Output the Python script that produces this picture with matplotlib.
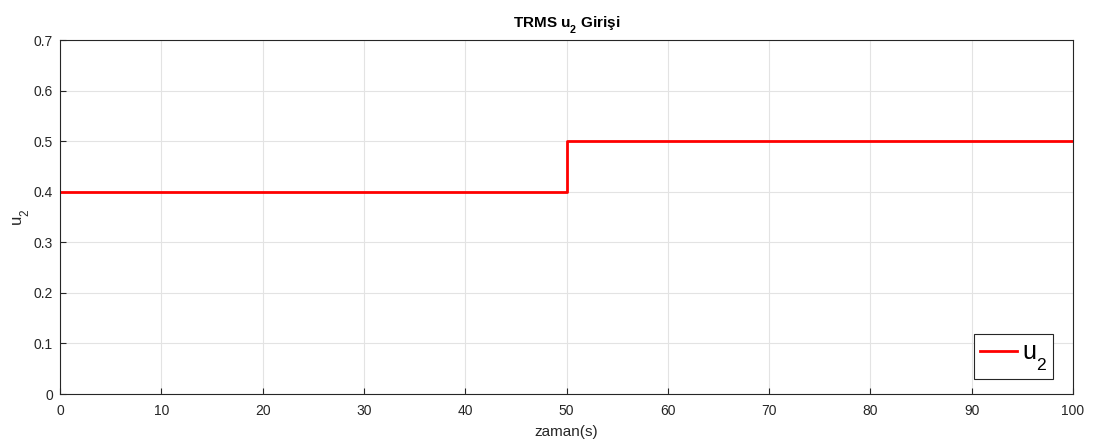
import matplotlib
matplotlib.use("Agg")
import matplotlib.pyplot as plt
import matplotlib._mathtext as _mt

# lower subscripts (MATLAB-like)
_mt.FontConstantsBase.sub1 = 0.8

t = [0, 50, 50, 100]
u2 = [0.4, 0.4, 0.5, 0.5]
xticks = [0, 10, 20, 30, 40, 50, 60, 70, 80, 90, 100]
yticks = [0, 0.1, 0.2, 0.3, 0.4, 0.5, 0.6, 0.7]

plt.rcParams['font.family'] = ['Liberation Sans', 'DejaVu Sans']
plt.rcParams['mathtext.fontset'] = 'custom'
plt.rcParams['mathtext.rm'] = 'Liberation Sans'
plt.rcParams['mathtext.it'] = 'Liberation Sans'
plt.rcParams['mathtext.bf'] = 'Liberation Sans:bold'

fig = plt.figure(figsize=(10.93, 4.44), dpi=100)
ax = fig.add_axes([60/1093, 1-394/444, (1073-60)/1093, (394-40)/444])
ax.plot(t, u2, color='#ff0000', lw=2, label=r'u$_\mathregular{2}$')
ax.set_xlim(0, 100)
ax.set_ylim(0, 0.7)
ax.set_xticks(xticks)
ax.set_yticks(yticks)
ax.set_xticklabels([str(v) for v in xticks])
ax.set_yticklabels(['0'] + [f'{v:.1f}' for v in yticks[1:]])
ax.tick_params(direction='in', length=4, labelsize=10, colors='#262626', width=0.8)
ax.tick_params(axis='x', pad=7)
ax.tick_params(axis='y', pad=5)
ax.grid(True, color='#e3e3e3', lw=0.8)
for s in ax.spines.values():
    s.set_color('#262626')
    s.set_linewidth(0.8)
ax.set_xlabel('zaman(s)', fontsize=11, color='#262626', labelpad=5)
ax.set_ylabel(r'u$_\mathregular{2}$', fontsize=12, color='#262626', labelpad=1)
ax.set_title(r'TRMS u$_\mathbf{2}$ Girişi', fontsize=11, fontweight='bold', pad=9)
leg = ax.legend(loc='lower right', fontsize=18, fancybox=False, framealpha=1,
                edgecolor='#262626', handlelength=1.45, handletextpad=0.2,
                borderpad=0.25, borderaxespad=0,
                bbox_to_anchor=(1053/1093, 1 - 379/444),
                bbox_transform=fig.transFigure)
leg.get_frame().set_linewidth(0.8)
fig.savefig('out.png', dpi=100)
